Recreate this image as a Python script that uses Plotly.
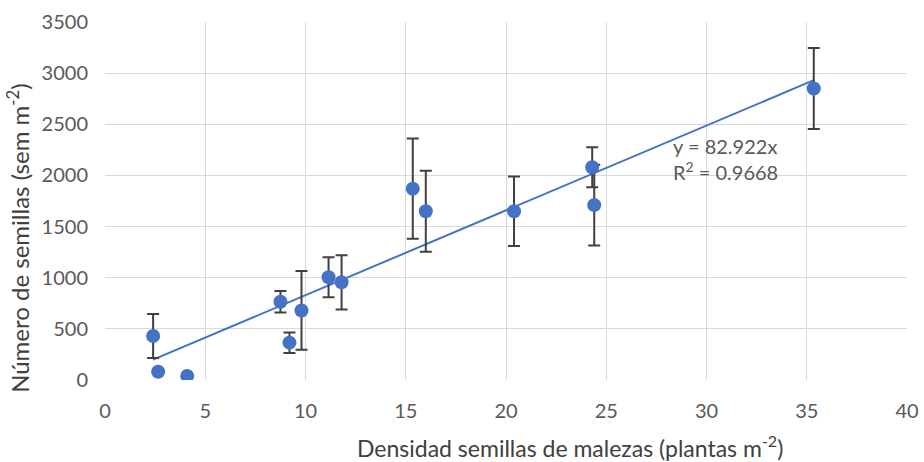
import plotly.graph_objects as go

densidad = [2.4, 2.65, 4.1, 8.75, 9.2, 9.8, 11.15, 11.8, 15.35, 16.0, 20.4, 24.3, 24.4, 35.35]
semillas = [430, 80, 40, 765, 365, 680, 1005, 955, 1870, 1650, 1650, 2080, 1710, 2850]
error = [215, 0, 0, 105, 100, 385, 195, 265, 490, 395, 340, 195, 395, 395]
pendiente = 82.922
r2 = 0.9668

font_fam = "Lato, 'Liberation Sans Narrow', sans-serif"
grey = "#595959"
dark = "#404040"
blue = "#4472C4"

x_fit = [min(densidad), max(densidad)]
y_fit = [pendiente * v for v in x_fit]

fig = go.Figure()
fig.add_trace(go.Scatter(
    x=x_fit, y=y_fit, mode="lines",
    line=dict(color=blue, width=2), hoverinfo="skip", showlegend=False))
fig.add_trace(go.Scatter(
    x=densidad, y=semillas, mode="markers",
    marker=dict(color=blue, size=14, line=dict(width=0)),
    error_y=dict(type="data", array=error, visible=True,
                 color=dark, thickness=2, width=6),
    showlegend=False))

fig.add_annotation(
    x=28.25, y=1900, xref="x", yref="y", xanchor="left", yanchor="bottom",
    text=f"y = {pendiente}x<br>R<sup>2</sup> = {r2}",
    showarrow=False, align="left",
    font=dict(family=font_fam, size=20, color=grey))

# axis titles (offset like the original)
fig.add_annotation(
    x=0.58, y=0, xref="paper", yref="paper", xanchor="center", yanchor="middle",
    yshift=-66, showarrow=False,
    text="Densidad semillas de malezas (plantas m<sup>-2</sup>)",
    font=dict(family=font_fam, size=23, color=dark))
fig.add_annotation(
    x=0, y=0.397, xref="paper", yref="paper", xanchor="center", yanchor="middle",
    xshift=-87, showarrow=False, textangle=-90,
    text="Número de semillas (sem m<sup>-2</sup>)",
    font=dict(family=font_fam, size=24, color=dark))

fig.update_layout(
    width=924, height=462,
    margin=dict(l=105, r=17, t=22, b=82),
    paper_bgcolor="white", plot_bgcolor="white",
    font=dict(family=font_fam, color=grey),
    xaxis=dict(range=[0, 40], dtick=5, showgrid=True, gridcolor="#D9D9D9",
               gridwidth=1, zeroline=False, showline=False, automargin=False,
               tickfont=dict(size=20, color=grey), ticks="",
               ticklabelstandoff=17),
    yaxis=dict(range=[0, 3500], dtick=500, showgrid=True, gridcolor="#D9D9D9",
               gridwidth=1, zeroline=False, showline=False, automargin=False,
               tickfont=dict(size=20, color=grey), ticks="",
               ticklabelstandoff=16),
)

fig.write_html("out.html", config={"displayModeBar": False},
               post_script="document.body.style.margin='0';")
